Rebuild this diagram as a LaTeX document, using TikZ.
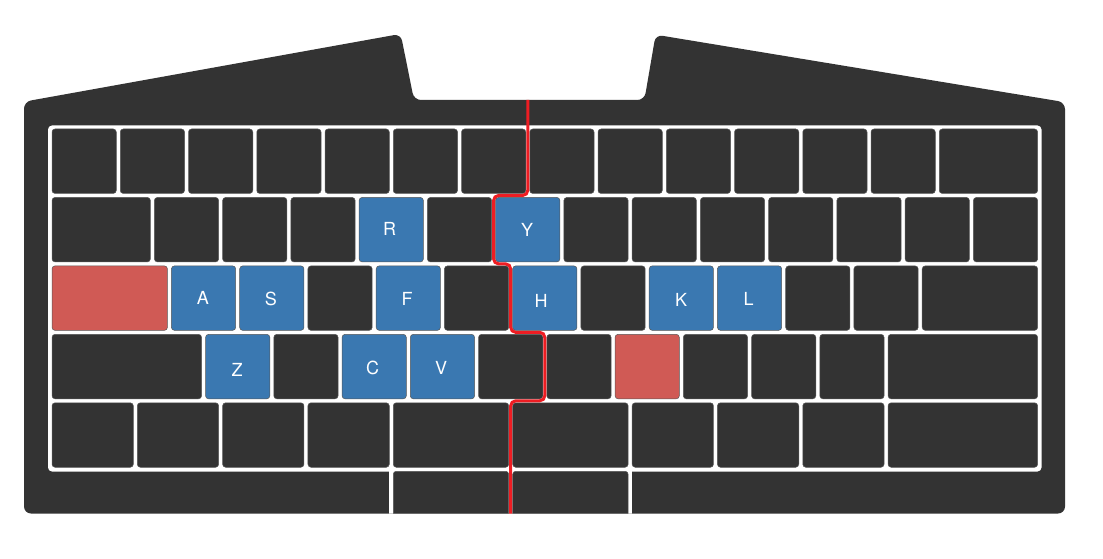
\documentclass[tikz,border=0pt]{standalone}
\usepackage{fontspec}
\setmainfont{TeX Gyre Heros}
\begin{document}
\begin{tikzpicture}[x=1pt,y=-1pt]
\definecolor{casegray}{HTML}{333333}
\definecolor{keyblue}{HTML}{3A78B1}
\definecolor{keyred}{HTML}{D05A55}
\definecolor{seamred}{HTML}{EE1D23}
\definecolor{rimgray}{HTML}{585858}
\tikzset{
  keybox/.style={draw=rimgray, line width=0.5pt, fill=casegray, rounded corners=3pt,
    minimum height=64.45pt, inner sep=0pt, outer sep=0pt},
  plain/.style={},
  bluekey/.style={fill=keyblue},
  redkey/.style={fill=keyred},
  keylabel/.style={text=white, font=\fontsize{18}{20}\selectfont, inner sep=0pt},
  seamline/.style={draw=seamred, line width=3pt, rounded corners=5pt},
}
\newcommand\keycap[5]{%
  \pgfmathsetmacro\kx{50+(#2+#3/2)*68.25}%
  \pgfmathsetmacro\ky{127+(#1-0.5)*68.45}%
  \pgfmathsetmacro\kw{#3*68.25-4}%
  \node[keybox,#4,minimum width=\kw pt] (#5) at (\kx,\ky) {};%
}
\def\casepath{(24,513.5) -- (24,101.7) -- (400.7,33.9) -- (414,100) -- (644.4,100) -- (655.6,34.7) -- (1065,102.2) -- (1065,513.5) -- cycle}
\useasboundingbox (0,0) rectangle (1103,559);
% case
\fill[casegray, rounded corners=7pt] \casepath;
% white frame
\fill[white, rounded corners=4pt] (48,125.5) rectangle (1041.5,471.5);
% row 1
\foreach \c/\w/\s [count=\i] in {0/1/plain,1/1/plain,2/1/plain,3/1/plain,4/1/plain,5/1/plain,6/1/plain,7/1/plain,8/1/plain,9/1/plain,10/1/plain,11/1/plain,12/1/plain,13/1.5/plain}
  {\keycap{1}{\c}{\w}{\s}{k1-\i}}
% row 2
\foreach \c/\w/\s [count=\i] in {0/1.5/plain,1.5/1/plain,2.5/1/plain,3.5/1/plain,4.5/1/bluekey,5.5/1/plain,6.5/1/bluekey,7.5/1/plain,8.5/1/plain,9.5/1/plain,10.5/1/plain,11.5/1/plain,12.5/1/plain,13.5/1/plain}
  {\keycap{2}{\c}{\w}{\s}{k2-\i}}
% row 3
\foreach \c/\w/\s [count=\i] in {0/1.75/redkey,1.75/1/bluekey,2.75/1/bluekey,3.75/1/plain,4.75/1/bluekey,5.75/1/plain,6.75/1/bluekey,7.75/1/plain,8.75/1/bluekey,9.75/1/bluekey,10.75/1/plain,11.75/1/plain,12.75/1.75/plain}
  {\keycap{3}{\c}{\w}{\s}{k3-\i}}
% row 4
\foreach \c/\w/\s [count=\i] in {0/2.25/plain,2.25/1/bluekey,3.25/1/plain,4.25/1/bluekey,5.25/1/bluekey,6.25/1/plain,7.25/1/plain,8.25/1/redkey,9.25/1/plain,10.25/1/plain,11.25/1/plain,12.25/2.25/plain}
  {\keycap{4}{\c}{\w}{\s}{k4-\i}}
% row 5
\foreach \c/\w/\s [count=\i] in {0/1.25/plain,1.25/1.25/plain,2.5/1.25/plain,3.75/1.25/plain,5/1.75/plain,6.75/1.75/plain,8.5/1.25/plain,9.75/1.25/plain,11/1.25/plain,12.25/2.25/plain}
  {\keycap{5}{\c}{\w}{\s}{k5-\i}}
% row 6 (partly hidden below the case)
\begin{scope}
  \clip \casepath;
  \fill[white] (389.25,469) rectangle (632.1,530);
  \keycap{6}{5}{1.75}{plain}{k6-1}
  \keycap{6}{6.75}{1.75}{plain}{k6-2}
\end{scope}
% labels
\node[keylabel] (lR) at (389.5,229) {R};
\node[keylabel] (lY) at (527,230) {Y};
\node[keylabel] (lA) at (203,298) {A};
\node[keylabel] (lS) at (271,299) {S};
\node[keylabel] (lF) at (407,299) {F};
\node[keylabel] (lH) at (541,301) {H};
\node[keylabel] (lK) at (681,300) {K};
\node[keylabel] (lL) at (748.5,299) {L};
\node[keylabel] (lZ) at (237,370) {Z};
\node[keylabel] (lC) at (372.5,367.5) {C};
\node[keylabel] (lV) at (441,368) {V};
% split line
\coordinate (seamtop) at (527.75,100);
\coordinate (seambot) at (510.7,513.5);
\draw[seamline] (seamtop) |- (493.6,195.45) |- (510.7,263.9) |- (544.8,332.35) |- (510.7,400.8) -- (seambot);
\end{tikzpicture}
\end{document}
